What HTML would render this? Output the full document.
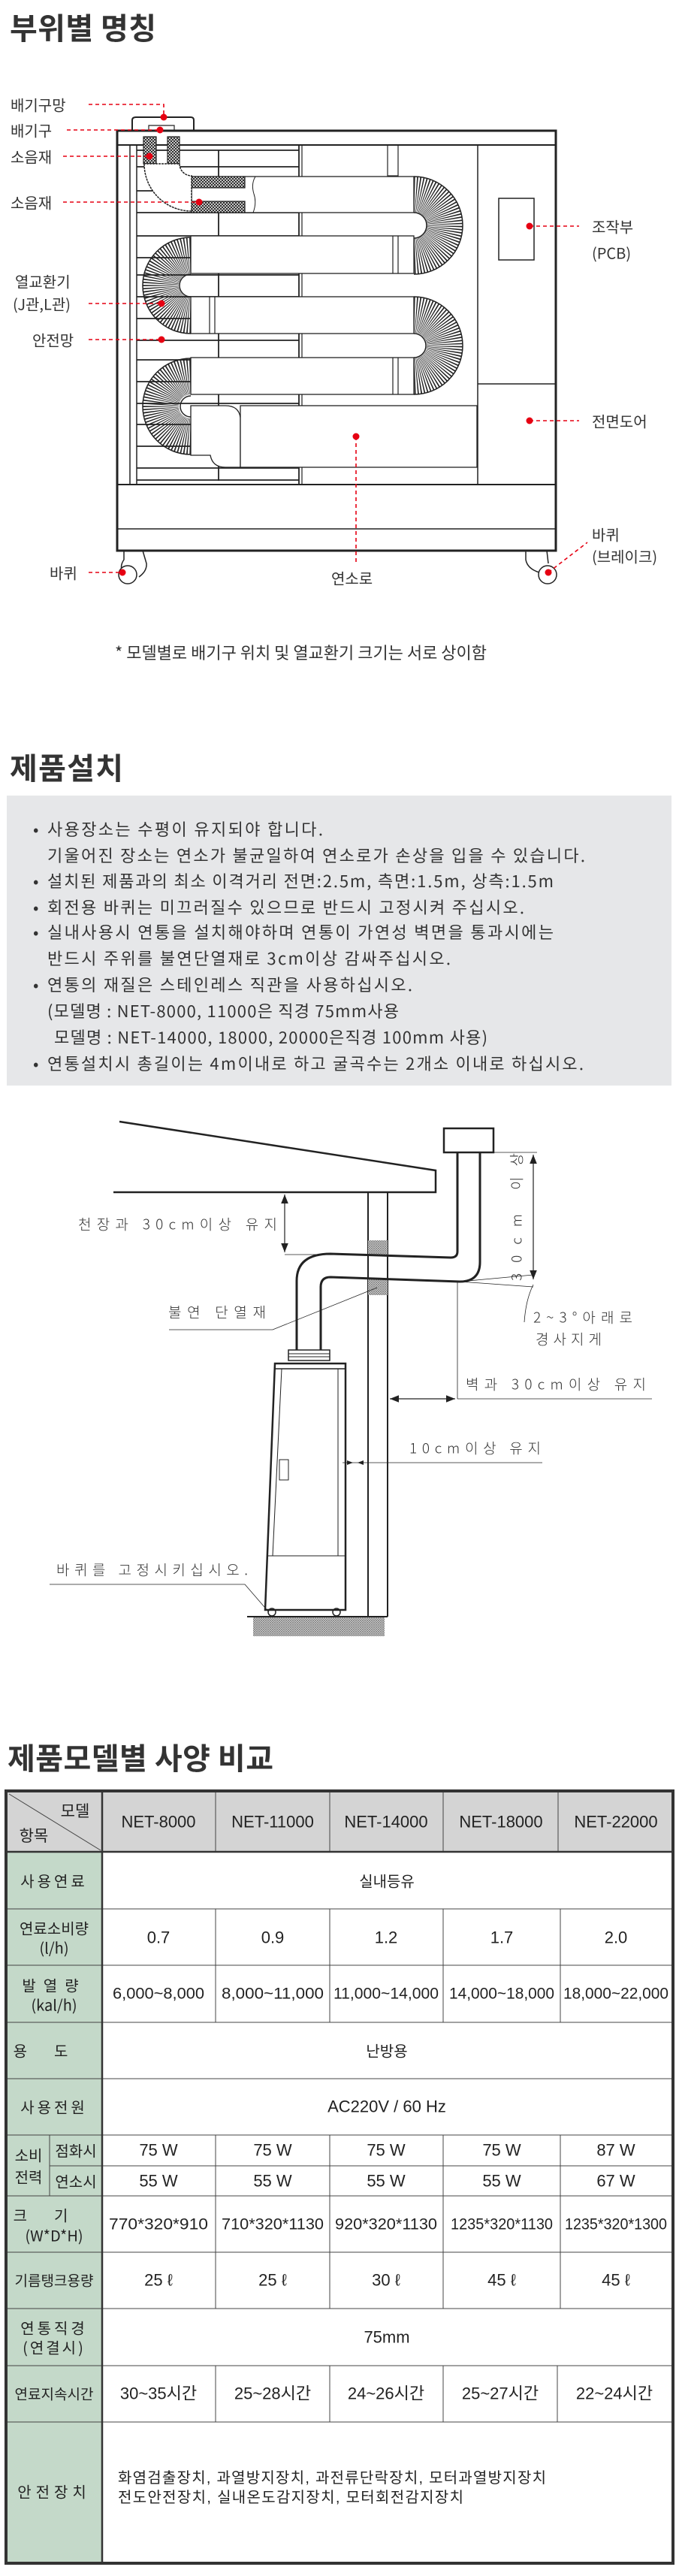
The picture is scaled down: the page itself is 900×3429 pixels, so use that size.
<!DOCTYPE html>
<html><head><meta charset="utf-8"><style>
html,body{margin:0;padding:0;background:#fff;}
svg{display:block;}
</style></head><body>
<svg width="900" height="3429" viewBox="0 0 900 3429" xmlns="http://www.w3.org/2000/svg" font-family="'Liberation Sans','Noto Sans CJK KR',sans-serif">
<defs>
<pattern id="hatch" width="4" height="4" patternUnits="userSpaceOnUse">
<rect width="4" height="4" fill="#fff"/>
<path d="M0 4L4 0M0 0L4 4" stroke="#222" stroke-width="1"/>
</pattern>
<pattern id="hatch2" width="3" height="3" patternUnits="userSpaceOnUse">
<rect width="3" height="3" fill="#ddd"/>
<path d="M0 3L3 0M0 0L3 3" stroke="#777" stroke-width="0.7"/>
</pattern>
<marker id="ar" markerWidth="10" markerHeight="8" refX="10" refY="4" orient="auto"><path d="M0 0L10 4L0 8z" fill="#222"/></marker>
<marker id="al" markerWidth="10" markerHeight="8" refX="0" refY="4" orient="auto"><path d="M10 0L0 4L10 8z" fill="#222"/></marker>
</defs>

<!-- ===== Section 1 ===== -->
<text x="13" y="52" font-size="40" font-weight="bold" fill="#333" font-family="'Noto Sans CJK KR',sans-serif" textLength="195">부위별 명칭</text>

<g stroke="#222" fill="none">
<path d="M176 173 L176 160 Q176 156 181 156 L254 156 Q258 156 258 160 L258 173" stroke-width="2" fill="#fff"/>
<path d="M198 173 L198 167 L232 167 L232 173" stroke-width="1.2"/>
<rect x="156" y="174" width="584" height="559" stroke-width="3" fill="#fff"/>
<line x1="156" y1="193" x2="740" y2="193" stroke-width="2"/>
<line x1="156" y1="645" x2="740" y2="645" stroke-width="2"/>
<line x1="156" y1="704" x2="740" y2="704" stroke-width="1.5"/>
<line x1="173" y1="193" x2="173" y2="645" stroke-width="1.5"/>
<line x1="182" y1="193" x2="182" y2="645" stroke-width="1.5"/>
<line x1="291" y1="200" x2="291" y2="640" stroke-width="1.8"/>
<line x1="398" y1="193" x2="398" y2="645" stroke-width="1.8"/>
<line x1="402" y1="193" x2="402" y2="645" stroke-width="1.2"/>
<line x1="636" y1="193" x2="636" y2="645" stroke-width="1.5"/>
<line x1="636" y1="511" x2="740" y2="511" stroke-width="1.5"/>
<rect x="664" y="264" width="47" height="82" stroke-width="1.5"/>
<rect x="516" y="193" width="14" height="41" stroke-width="1.2"/>
<g stroke-width="1.8">
<line x1="182" y1="200" x2="398" y2="200"/>
<line x1="182" y1="222" x2="398" y2="222"/>
<line x1="182" y1="254" x2="398" y2="254"/>
<line x1="182" y1="283" x2="398" y2="283"/>
<line x1="182" y1="314" x2="398" y2="314"/>
<line x1="182" y1="343" x2="398" y2="343"/>
<line x1="182" y1="366" x2="398" y2="366"/>
<line x1="182" y1="395" x2="398" y2="395"/>
<line x1="182" y1="424" x2="398" y2="424"/>
<line x1="182" y1="453" x2="398" y2="453"/>
<line x1="182" y1="479" x2="398" y2="479"/>
<line x1="182" y1="508" x2="398" y2="508"/>
<line x1="182" y1="537" x2="398" y2="537"/>
<line x1="182" y1="565" x2="398" y2="565"/>
<line x1="182" y1="594" x2="398" y2="594"/>
<line x1="182" y1="623" x2="398" y2="623"/>
<line x1="182" y1="639" x2="398" y2="639"/>
</g>
<g stroke-width="1.3" fill="#fff">
<rect x="255" y="235" width="296" height="48"/>
<rect x="254" y="314" width="297" height="50"/>
<rect x="254" y="395" width="297" height="49"/>
<rect x="254" y="476" width="297" height="49"/>
<path d="M254 540 L300 540 Q318 540 320 556 L320 622 L300 622 Q283 622 280 606 L254 606Z"/>
<rect x="320" y="540" width="315" height="82"/>
</g>
<line x1="523" y1="314" x2="523" y2="364" stroke-width="1.2"/><line x1="530" y1="314" x2="530" y2="364" stroke-width="1.2"/>
<line x1="523" y1="476" x2="523" y2="525" stroke-width="1.2"/><line x1="530" y1="476" x2="530" y2="525" stroke-width="1.2"/>
<line x1="279" y1="395" x2="279" y2="444" stroke-width="1.2"/><line x1="286" y1="395" x2="286" y2="444" stroke-width="1.2"/>
<rect x="191" y="182" width="17" height="36" fill="url(#hatch)" stroke-width="1.2"/>
<rect x="223" y="182" width="16" height="36" fill="url(#hatch)" stroke-width="1.2"/>
<rect x="255" y="235" width="71" height="15" fill="url(#hatch)" stroke-width="1.2"/>
<rect x="255" y="268" width="71" height="15" fill="url(#hatch)" stroke-width="1.2"/>
<path d="M340 235 Q334 245 338 258 Q342 270 337 283" stroke-width="1"/>
<path d="M192 218 A63 63 0 0 0 255 281 L255 234 A16 16 0 0 1 239 218 Z" fill="#fff" stroke-width="1.5" stroke-dasharray="3 1"/>
<g fill="none">
<path d="M551 259 A41 41 0 0 1 551 341" stroke="#222" stroke-width="48" stroke-dasharray="1.1 1.6"/>
<path d="M551 419 A41 41 0 0 1 551 501" stroke="#222" stroke-width="48" stroke-dasharray="1.1 1.6"/>
<path d="M254 420 A40 40 0 0 1 254 340" stroke="#222" stroke-width="48" stroke-dasharray="1.1 1.6"/>
<path d="M254 581 A40 40 0 0 1 254 501" stroke="#222" stroke-width="48" stroke-dasharray="1.1 1.6"/>
</g>
<g stroke-width="1.5">
<path d="M551 235 A65 65 0 0 1 551 365"/><path d="M551 283 A17 17 0 0 1 551 317"/>
<path d="M551 395 A65 65 0 0 1 551 525"/><path d="M551 444 A16 16 0 0 1 551 476"/>
<path d="M254 444 A64 64 0 0 1 254 316"/><path d="M254 395 A15 15 0 0 1 254 365"/>
<path d="M254 605 A64 64 0 0 1 254 477"/><path d="M254 555 A14 14 0 0 1 254 527"/>
</g>
<g stroke-width="1.5" fill="#fff">
<path d="M165 733 L165 745 Q158 755 165 765 M190 733 L195 750 Q196 760 185 768"/>
<circle cx="170" cy="765" r="12"/>
<path d="M700 733 L700 745 Q702 757 718 762 M728 733 L730 750"/>
<circle cx="729" cy="765" r="12"/>
</g>
</g>

<g stroke="#e60012" stroke-width="1.6" stroke-dasharray="5 4" fill="none">
<path d="M118 139 L218 139 L218 156"/>
<line x1="89" y1="173" x2="213" y2="173"/>
<line x1="84" y1="208" x2="199" y2="208"/>
<line x1="84" y1="269" x2="265" y2="269"/>
<line x1="118" y1="404" x2="215" y2="404"/>
<line x1="118" y1="452" x2="215" y2="452"/>
<line x1="705" y1="301" x2="771" y2="301"/>
<line x1="705" y1="560" x2="771" y2="560"/>
<line x1="474" y1="581" x2="474" y2="750"/>
<line x1="118" y1="762" x2="163" y2="762"/>
<line x1="730" y1="762" x2="782" y2="722"/>
</g>
<g fill="#e60012">
<circle cx="218" cy="156" r="4.5"/><circle cx="213" cy="173" r="4.5"/><circle cx="199" cy="208" r="4.5"/>
<circle cx="265" cy="269" r="4.5"/><circle cx="215" cy="404" r="4.5"/><circle cx="215" cy="452" r="4.5"/>
<circle cx="705" cy="301" r="4.5"/><circle cx="705" cy="560" r="4.5"/><circle cx="474" cy="581" r="4.5"/>
<circle cx="163" cy="762" r="4.5"/><circle cx="730" cy="762" r="4.5"/>
</g>
<g font-size="20" fill="#333" font-family="'Noto Sans CJK KR',sans-serif" dominant-baseline="central">
<text x="14" y="139">배기구망</text>
<text x="14" y="173">배기구</text>
<text x="14" y="208">소음재</text>
<text x="14" y="269">소음재</text>
<text x="20" y="374">열교환기</text>
<text x="17" y="404">(J관,L관)</text>
<text x="43" y="452">안전망</text>
<text x="788" y="301">조작부</text>
<text x="788" y="336">(PCB)</text>
<text x="788" y="560">전면도어</text>
<text x="788" y="711">바퀴</text>
<text x="788" y="740">(브레이크)</text>
<text x="66" y="762">바퀴</text>
<text x="441" y="769">연소로</text>
<text x="153" y="868" font-size="22">* 모델별로 배기구 위치 및 열교환기 크기는 서로 상이함</text>
</g>

<!-- ===== Section 2 ===== -->
<text x="13" y="1037" font-size="40" font-weight="bold" fill="#333" font-family="'Noto Sans CJK KR',sans-serif" textLength="151">제품설치</text>
<rect x="9" y="1059" width="885" height="386" fill="#e6e7e9"/>
<g font-size="22" fill="#333" font-family="'Noto Sans CJK KR',sans-serif" dominant-baseline="central">
<text x="44" y="1103">•</text><text x="63" y="1103" textLength="367">사용장소는 수평이 유지되야 합니다.</text>
<text x="63" y="1138" textLength="716">기울어진 장소는 연소가 불균일하여 연소로가 손상을 입을 수 있습니다.</text>
<text x="44" y="1172">•</text><text x="63" y="1172" textLength="674">설치된 제품과의 최소 이격거리 전면:2.5m, 측면:1.5m, 상측:1.5m</text>
<text x="44" y="1207">•</text><text x="63" y="1207" textLength="635">회전용 바퀴는 미끄러질수 있으므로 반드시 고정시켜 주십시오.</text>
<text x="44" y="1240">•</text><text x="63" y="1240" textLength="674">실내사용시 연통을 설치해야하며 연통이 가연성 벽면을 통과시에는</text>
<text x="63" y="1275" textLength="537">반드시 주위를 불연단열재로 3cm이상 감싸주십시오.</text>
<text x="44" y="1310">•</text><text x="63" y="1310" textLength="486">연통의 재질은 스테인레스 직관을 사용하십시오.</text>
<text x="63" y="1345" textLength="468">(모델명 : NET-8000, 11000은 직경 75mm사용</text>
<text x="72" y="1380" textLength="577">모델명 : NET-14000, 18000, 20000은직경  100mm 사용)</text>
<text x="44" y="1415">•</text><text x="63" y="1415" textLength="714">연통설치시 총길이는 4m이내로 하고 굴곡수는 2개소 이내로 하십시오.</text>
</g>

<g stroke="#222" fill="none">
<path d="M159 1493 L580 1558 L580 1587 L151 1587" stroke-width="2.5"/>
<line x1="490" y1="1587" x2="490" y2="2152" stroke-width="2"/>
<line x1="516" y1="1587" x2="516" y2="2152" stroke-width="2"/>
<rect x="490" y="1651" width="26" height="19" fill="url(#hatch2)" stroke="none"/>
<rect x="490" y="1703" width="26" height="21" fill="url(#hatch2)" stroke="none"/>
<rect x="591" y="1502" width="66" height="32" stroke-width="2.5" fill="#fff"/>
<path d="M609 1534 L609 1666 Q609 1674 600 1674 L440 1669 Q395 1669 395 1705 L395 1797" stroke-width="3"/>
<path d="M639 1534 L639 1680 Q639 1706 612 1706 L440 1700 Q427 1700 427 1713 L427 1797" stroke-width="3"/>
<rect x="384" y="1797" width="55" height="14" stroke-width="1.5"/>
<line x1="384" y1="1802" x2="439" y2="1802" stroke-width="1"/><line x1="384" y1="1806" x2="439" y2="1806" stroke-width="1"/>
<path d="M366 1815 L460 1815 L460 2143 L353 2143 Z" stroke-width="2.5" fill="#fff"/>
<line x1="366" y1="1822" x2="460" y2="1822" stroke-width="1.5"/>
<line x1="375" y1="1822" x2="363" y2="2071" stroke-width="1"/>
<line x1="450" y1="1822" x2="450" y2="2071" stroke-width="1"/>
<line x1="356" y1="2071" x2="460" y2="2071" stroke-width="1"/>
<rect x="372" y="1943" width="12" height="27" stroke-width="1"/>
<circle cx="362" cy="2146" r="5" stroke-width="1.5"/><circle cx="448" cy="2146" r="5" stroke-width="1.5"/>
<line x1="329" y1="2152" x2="516" y2="2152" stroke-width="2"/>
<rect x="337" y="2153" width="175" height="25" fill="url(#hatch2)" stroke="none"/>
<line x1="379" y1="1590" x2="379" y2="1667" stroke-width="1.2" marker-start="url(#al)" marker-end="url(#ar)"/>
<line x1="379" y1="1670" x2="430" y2="1670" stroke-width="0.8"/>
<line x1="657" y1="1534" x2="715" y2="1534" stroke-width="0.8"/>
<line x1="710" y1="1537" x2="710" y2="1703" stroke-width="1.2" marker-start="url(#al)" marker-end="url(#ar)"/>
<path d="M612 1706 L710 1713 M612 1706 L710 1697" stroke-width="0.8"/>
<path d="M710 1710 Q700 1730 698 1760" stroke-width="0.8"/>
<line x1="609" y1="1706" x2="609" y2="1862" stroke-width="0.8"/>
<line x1="519" y1="1862" x2="606" y2="1862" stroke-width="1.2" marker-start="url(#al)" marker-end="url(#ar)"/>
<line x1="609" y1="1862" x2="868" y2="1862" stroke-width="0.8"/>
<line x1="456" y1="1947" x2="722" y2="1947" stroke-width="0.8"/>
<path d="M462 1944 L470 1947 L462 1950 Z M484 1944 L476 1947 L484 1950Z" fill="#222" stroke="none"/>
<path d="M225 1770 L363 1770 L502 1714" stroke-width="0.8"/>
<path d="M66 2109 L326 2109 L358 2146" stroke-width="0.8"/>
</g>
<g font-size="19" fill="#333" font-family="'Noto Sans CJK KR',sans-serif" font-weight="300" dominant-baseline="central">
<text x="104" y="1629" textLength="265">천장과  30cm이상  유지</text>
<text x="224" y="1746" textLength="130">불연  단열재</text>
<text x="710" y="1753" textLength="132">2~3°아래로</text>
<text x="713" y="1782" textLength="88">경사지게</text>
<text x="620" y="1842" textLength="240">벽과  30cm이상  유지</text>
<text x="545" y="1927" textLength="175">10cm이상  유지</text>
<text x="75" y="2089" textLength="255">바퀴를  고정시키십시오.</text>
<text transform="translate(687,1620) rotate(-90)" text-anchor="middle" textLength="170">30cm  이상</text>
</g>

<!-- ===== Section 3 ===== -->
<text x="10" y="2355" font-size="40" font-weight="bold" fill="#333" font-family="'Noto Sans CJK KR',sans-serif" textLength="354">제품모델별 사양 비교</text>

<rect x="9" y="2385" width="885" height="80" fill="#d4d4d4"/>
<rect x="9" y="2465" width="127" height="945" fill="#c4d9c9"/>
<rect x="136" y="2465" width="758" height="945" fill="#fff"/>
<g stroke="#444" stroke-width="1" fill="none">
<line x1="9" y1="2541" x2="894" y2="2541"/>
<line x1="9" y1="2616" x2="894" y2="2616"/>
<line x1="9" y1="2692" x2="894" y2="2692"/>
<line x1="9" y1="2767" x2="894" y2="2767"/>
<line x1="9" y1="2842" x2="894" y2="2842"/>
<line x1="66" y1="2883" x2="894" y2="2883"/>
<line x1="9" y1="2923" x2="894" y2="2923"/>
<line x1="9" y1="2998" x2="894" y2="2998"/>
<line x1="9" y1="3073" x2="894" y2="3073"/>
<line x1="9" y1="3149" x2="894" y2="3149"/>
<line x1="9" y1="3224" x2="894" y2="3224"/>
<line x1="66" y1="2842" x2="66" y2="2923"/>
<line x1="287" y1="2385" x2="287" y2="2465"/><line x1="439" y1="2385" x2="439" y2="2465"/>
<line x1="590" y1="2385" x2="590" y2="2465"/><line x1="743" y1="2385" x2="743" y2="2465"/>
<path d="M287 2541V2692M439 2541V2692M590 2541V2692M746 2541V2692"/>
<path d="M287 2842V3073M439 2842V3073M590 2842V3073M746 2842V3073"/>
<path d="M287 3149V3224M439 3149V3224M590 3149V3224M742 3149V3224"/>
<line x1="12" y1="2388" x2="134" y2="2463"/>
</g>
<line x1="9" y1="2465" x2="894" y2="2465" stroke="#333" stroke-width="2.5"/>
<line x1="136" y1="2385" x2="136" y2="3410" stroke="#333" stroke-width="2.5"/>
<rect x="8" y="2384" width="888" height="1028" fill="none" stroke="#333" stroke-width="4"/>

<g font-size="22" fill="#222" text-anchor="middle" dominant-baseline="central" font-family="'Liberation Sans','Noto Sans CJK KR',sans-serif">
<text x="100" y="2410" font-size="21" font-family="'Noto Sans CJK KR',sans-serif">모델</text>
<text x="45" y="2443" font-size="21" font-family="'Noto Sans CJK KR',sans-serif">항목</text>
<g font-size="22"><text x="211" y="2425">NET-8000</text><text x="363" y="2425">NET-11000</text><text x="514" y="2425">NET-14000</text><text x="667" y="2425">NET-18000</text><text x="820" y="2425">NET-22000</text></g>
<g font-family="'Noto Sans CJK KR',sans-serif" font-size="20">
<text x="72" y="2503" letter-spacing="4">사용연료</text>
<text x="72" y="2566">연료소비량</text>
<text x="72" y="2592">(l/h)</text>
<text x="72" y="2642" letter-spacing="10">발열량</text>
<text x="72" y="2668">(kal/h)</text>
<text x="72" y="2729" letter-spacing="36">용도</text>
<text x="72" y="2804" letter-spacing="4">사용전원</text>
<text x="38" y="2868">소비</text>
<text x="38" y="2897">전력</text>
<text x="101" y="2862">점화시</text>
<text x="101" y="2903">연소시</text>
<text x="72" y="2948" letter-spacing="36">크기</text>
<text x="72" y="2975">(W*D*H)</text>
<text x="72" y="3035" font-size="19">기름탱크용량</text>
<text x="72" y="3098" letter-spacing="4">연통직경</text>
<text x="72" y="3124" letter-spacing="3">(연결시)</text>
<text x="72" y="3186" font-size="19">연료지속시간</text>
<text x="72" y="3316" letter-spacing="6">안전장치</text>
<text x="515" y="2503">실내등유</text>
<text x="515" y="2729">난방용</text>
</g>
<text x="211" y="2579">0.7</text><text x="363" y="2579">0.9</text><text x="514" y="2579">1.2</text><text x="668" y="2579">1.7</text><text x="820" y="2579">2.0</text>
<g font-size="21" lengthAdjust="spacingAndGlyphs"><text x="211" y="2654" textLength="122" lengthAdjust="spacingAndGlyphs">6,000~8,000</text><text x="363" y="2654" textLength="136" lengthAdjust="spacingAndGlyphs">8,000~11,000</text><text x="514" y="2654" textLength="140" lengthAdjust="spacingAndGlyphs">11,000~14,000</text><text x="668" y="2654" textLength="140" lengthAdjust="spacingAndGlyphs">14,000~18,000</text><text x="820" y="2654" textLength="140" lengthAdjust="spacingAndGlyphs">18,000~22,000</text></g>
<text x="515" y="2804">AC220V / 60 Hz</text>
<text x="211" y="2862">75 W</text><text x="363" y="2862">75 W</text><text x="514" y="2862">75 W</text><text x="668" y="2862">75 W</text><text x="820" y="2862">87 W</text>
<text x="211" y="2903">55 W</text><text x="363" y="2903">55 W</text><text x="514" y="2903">55 W</text><text x="668" y="2903">55 W</text><text x="820" y="2903">67 W</text>
<g font-size="21"><text x="211" y="2961" textLength="132" lengthAdjust="spacingAndGlyphs">770*320*910</text><text x="363" y="2961" textLength="136" lengthAdjust="spacingAndGlyphs">710*320*1130</text><text x="514" y="2961" textLength="136" lengthAdjust="spacingAndGlyphs">920*320*1130</text><text x="668" y="2961" textLength="136" lengthAdjust="spacingAndGlyphs">1235*320*1130</text><text x="820" y="2961" textLength="136" lengthAdjust="spacingAndGlyphs">1235*320*1300</text></g>
<text x="211" y="3035">25 ℓ</text><text x="363" y="3035">25 ℓ</text><text x="514" y="3035">30 ℓ</text><text x="668" y="3035">45 ℓ</text><text x="820" y="3035">45 ℓ</text>
<text x="515" y="3111">75mm</text>
<g><text x="211" y="3186">30~35시간</text><text x="363" y="3186">25~28시간</text><text x="514" y="3186">24~26시간</text><text x="666" y="3186">25~27시간</text><text x="818" y="3186">22~24시간</text></g>
</g>
<g font-size="20" fill="#222" font-family="'Liberation Sans','Noto Sans CJK KR',sans-serif" dominant-baseline="central">
<text x="157" y="3299" textLength="570">화염검출장치, 과열방지장치, 과전류단락장치, 모터과열방지장치</text>
<text x="157" y="3325" textLength="460">전도안전장치, 실내온도감지장치, 모터회전감지장치</text>
</g>
</svg>
</body></html>
